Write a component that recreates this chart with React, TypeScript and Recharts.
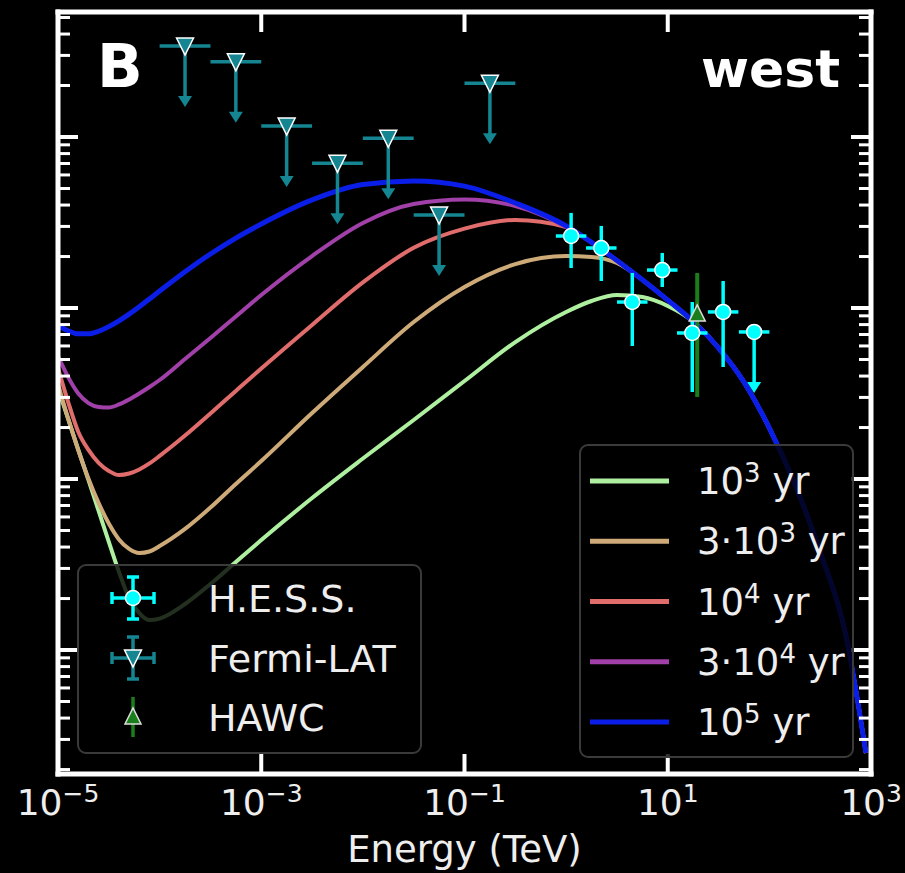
import React from 'react';
import { ComposedChart, Line, Scatter, XAxis, YAxis, ErrorBar } from 'recharts';

document.body.style.margin = '0';

// log10(E / TeV) grid shared by the model curves
const logEnergy = [
  -5, -4.9, -4.8, -4.7, -4.6, -4.5, -4.4, -4.3, -4.2, -4.1, -4, -3.75, -3.5, -3.25, -3,
  -2.5, -2, -1.5, -1, -0.5, 0, 0.25, 0.5, 0.75, 1, 1.25, 1.5, 1.75, 2, 2.25, 2.5, 2.75, 2.95,
];

// log10 flux of the model curves, one per source age
const flux1e3 = [
  -10.468, -10.649, -10.83, -11.006, -11.187, -11.368, -11.544, -11.696, -11.784, -11.825, -11.816,
  -11.731, -11.614, -11.485, -11.357, -11.111, -10.88, -10.655, -10.427, -10.199, -10.023, -9.959,
  -9.924, -9.936, -9.988, -10.079, -10.234, -10.433, -10.702, -11.029, -11.427, -11.906, -12.602,
];
const flux3e3 = [
  -10.444, -10.647, -10.832, -10.998, -11.141, -11.26, -11.353, -11.409, -11.433, -11.424, -11.392,
  -11.292, -11.167, -11.029, -10.895, -10.614, -10.345, -10.082, -9.877, -9.743, -9.696, -9.702,
  -9.737, -9.835, -9.954, -10.079, -10.234, -10.433, -10.702, -11.029, -11.427, -11.906, -12.602,
];
const flux1e4 = [
  -10.351, -10.55, -10.725, -10.83, -10.906, -10.953, -10.977, -10.968, -10.944, -10.909, -10.865,
  -10.746, -10.617, -10.485, -10.354, -10.099, -9.85, -9.648, -9.536, -9.485, -9.526, -9.616,
  -9.722, -9.835, -9.954, -10.079, -10.234, -10.433, -10.702, -11.029, -11.427, -11.906, -12.602,
];
const flux3e4 = [
  -10.281, -10.404, -10.5, -10.556, -10.579, -10.582, -10.564, -10.535, -10.5, -10.462, -10.421,
  -10.298, -10.175, -10.05, -9.924, -9.696, -9.503, -9.392, -9.365, -9.404, -9.526, -9.616,
  -9.722, -9.835, -9.954, -10.079, -10.234, -10.433, -10.702, -11.029, -11.427, -11.906, -12.602,
];
const flux1e5 = [
  -10.103, -10.133, -10.151, -10.151, -10.136, -10.109, -10.075, -10.036, -9.993, -9.947, -9.901,
  -9.788, -9.684, -9.591, -9.509, -9.368, -9.278, -9.257, -9.287, -9.386, -9.52, -9.616,
  -9.722, -9.835, -9.954, -10.079, -10.234, -10.433, -10.702, -11.029, -11.427, -11.906, -12.602,
];

const ageLabels = ['10^3', '3·10^3', '10^4', '3·10^4', '10^5'];
const ageColors = ['#aef0a0', '#cdaa78', '#e06c6c', '#a040a8', '#0a1ee8'];
const ageFlux = [flux1e3, flux3e3, flux1e4, flux3e4, flux1e5];

// H.E.S.S. points (log10 values), last one is an upper limit
const hessLogE = [0.049, 0.346, 0.651, 0.946, 1.241, 1.545, 1.85];
const hessLogF = [-9.579, -9.649, -9.965, -9.778, -10.146, -10.023, -10.14];
const hessLogFHi = [-9.444, -9.52, -9.795, -9.678, -9.965, -9.842, -10.14];
const hessLogFLo = [-9.766, -9.842, -10.222, -9.877, -10.491, -10.345, -10.14];
const hessUpperLimit = [false, false, false, false, false, false, true];
const hessHalfBin = 0.15;

// Fermi-LAT upper limits
const fermiLogE = [-3.75, -3.25, -2.75, -2.25, -1.75, -1.25, -0.75];
const fermiLogF = [-8.468, -8.56, -8.936, -9.154, -9.008, -9.456, -8.686];
const fermiHalfBin = 0.25;

// HAWC
const hawcLogE = [1.29];
const hawcLogF = [-10.035];
const hawcLogFHi = [-9.795];
const hawcLogFLo = [-10.52];

const xTicks = [1e-5, 1e-3, 1e-1, 1e1, 1e3];
const xDomain = [1e-5, 1e3];
const yDomain = [10 ** -12.725, 10 ** -8.269];

const HESS = '#00ffff';
const FERMI = '#148591';
const HAWC = '#1a7f1a';
const FONT = 'DejaVu Sans';
const ARROW = 61;

const yTicks: number[] = [];
for (let d = -13; d <= -9; d++) {
  for (let m = 1; m <= 9; m++) {
    const v = m * 10 ** d;
    if (v >= yDomain[0] && v <= yDomain[1]) yTicks.push(v);
  }
}

const curveRows = ageFlux.map((ys) => logEnergy.map((x, i) => ({ e: 10 ** x, f: 10 ** ys[i] })));

const hessRows = hessLogE.map((x, i) => {
  const e = 10 ** x;
  const f = 10 ** hessLogF[i];
  return {
    e,
    f,
    ul: hessUpperLimit[i],
    ex: [e - 10 ** (x - hessHalfBin), 10 ** (x + hessHalfBin) - e],
    ey: [f - 10 ** hessLogFLo[i], 10 ** hessLogFHi[i] - f],
  };
});

const fermiRows = fermiLogE.map((x, i) => {
  const e = 10 ** x;
  return { e, f: 10 ** fermiLogF[i], ex: [e - 10 ** (x - fermiHalfBin), 10 ** (x + fermiHalfBin) - e] };
});

const hawcRows = hawcLogE.map((x, i) => {
  const f = 10 ** hawcLogF[i];
  return { e: 10 ** x, f, ey: [f - 10 ** hawcLogFLo[i], 10 ** hawcLogFHi[i] - f] };
});

const supText = (label: string) => {
  const [pre, exp] = label.split('^');
  return { pre, exp };
};

const BottomTick = ({ x, y, payload }: any) => {
  const exp = Math.round(Math.log10(payload.value));
  return (
    <g>
      <line x1={x} y1={y} x2={x} y2={y - 20} stroke="#fff" strokeWidth={4} />
      <text x={x} y={y + 41} textAnchor="middle" fill="#eee" fontSize={36} fontFamily={FONT}>
        10
        <tspan dy={-13} fontSize={25}>
          {exp < 0 ? '\u2212' + -exp : String(exp)}
        </tspan>
      </text>
    </g>
  );
};

const TopTick = ({ x, y }: any) => <line x1={x} y1={y} x2={x} y2={y + 20} stroke="#fff" strokeWidth={4} />;

const makeYTick = (dir: number) => ({ x, y, payload }: any) => {
  const lg = Math.log10(payload.value);
  const major = Math.abs(lg - Math.round(lg)) < 1e-6;
  return (
    <line x1={x} y1={y} x2={x + dir * (major ? 20 : 12)} y2={y} stroke="#fff" strokeWidth={major ? 4 : 3} />
  );
};

const HessShape = ({ cx, cy, payload }: any) => (
  <g>
    {payload.ul && (
      <>
        <line x1={cx} y1={cy} x2={cx} y2={cy + ARROW - 8} stroke={HESS} strokeWidth={3.5} />
        <path d={`M${cx - 7},${cy + ARROW - 11}L${cx + 7},${cy + ARROW - 11}L${cx},${cy + ARROW}Z`} fill={HESS} />
      </>
    )}
    <circle cx={cx} cy={cy} r={7.5} fill={HESS} stroke="#fff" strokeWidth={1.5} />
  </g>
);

const FermiShape = ({ cx, cy }: any) => (
  <g>
    <line x1={cx} y1={cy} x2={cx} y2={cy + ARROW - 8} stroke={FERMI} strokeWidth={3.5} />
    <path d={`M${cx - 7},${cy + ARROW - 11}L${cx + 7},${cy + ARROW - 11}L${cx},${cy + ARROW}Z`} fill={FERMI} />
    <path d={`M${cx - 8.5},${cy - 8}L${cx + 8.5},${cy - 8}L${cx},${cy + 9}Z`} fill={FERMI} stroke="#fff" strokeWidth={1.5} />
  </g>
);

const HawcShape = ({ cx, cy }: any) => (
  <path d={`M${cx - 8},${cy + 7}L${cx + 8},${cy + 7}L${cx},${cy - 9}Z`} fill={HAWC} stroke="#ddd" strokeWidth={1.5} />
);

const Cross = ({ x, y, color, caps }: { x: number; y: number; color: string; caps: boolean }) => (
  <g stroke={color} strokeWidth={3.5}>
    <line x1={x - 21} y1={y} x2={x + 21} y2={y} />
    <line x1={x} y1={y - 21} x2={x} y2={y + 21} />
    {caps && (
      <>
        <line x1={x - 6} y1={y - 21} x2={x + 6} y2={y - 21} />
        <line x1={x - 6} y1={y + 21} x2={x + 6} y2={y + 21} />
        <line x1={x - 21} y1={y - 6} x2={x - 21} y2={y + 6} />
        <line x1={x + 21} y1={y - 6} x2={x + 21} y2={y + 6} />
      </>
    )}
  </g>
);

const Overlay = () => (
  <svg width={905} height={873} style={{ position: 'absolute', left: 0, top: 0, pointerEvents: 'none' }}>
    <text x={97} y={87} fill="#fff" fontSize={60} fontWeight="bold" fontFamily={FONT}>B</text>
    <text x={840} y={87} fill="#fff" fontSize={52} fontWeight="bold" fontFamily={FONT} textAnchor="end">west</text>

    {/* data legend */}
    <rect x={78} y={565} width={343} height={188} rx={8} fill="#000" fillOpacity={0.8} stroke="#3a3a3a" strokeWidth={2} />
    <Cross x={133} y={598} color={HESS} caps />
    <circle cx={133} cy={598} r={7.5} fill={HESS} stroke="#fff" strokeWidth={1.5} />
    <Cross x={133} y={658} color={FERMI} caps />
    <path d="M124.5,650L141.5,650L133,667Z" fill={FERMI} stroke="#fff" strokeWidth={1.5} />
    <line x1={133} y1={697} x2={133} y2={737} stroke={HAWC} strokeWidth={3.5} />
    <path d="M125,724L141,724L133,708Z" fill={HAWC} stroke="#ddd" strokeWidth={1.5} />
    {['H.E.S.S.', 'Fermi-LAT', 'HAWC'].map((t, i) => (
      <text key={t} x={208} y={612 + i * 59.5} fill="#eee" fontSize={38} fontFamily={FONT}>{t}</text>
    ))}

    {/* model legend */}
    <rect x={580} y={445} width={273} height={312} rx={8} fill="#000" fillOpacity={0.8} stroke="#3a3a3a" strokeWidth={2} />
    {ageLabels.map((lab, i) => {
      const cy = 481 + i * 60.25;
      const { pre, exp } = supText(lab);
      return (
        <g key={lab}>
          <line x1={590} y1={cy} x2={669} y2={cy} stroke={ageColors[i]} strokeWidth={5} />
          <text x={697} y={cy + 13} fill="#eee" fontSize={37} fontFamily={FONT}>
            {pre}
            <tspan dy={-12} fontSize={26}>{exp}</tspan>
            <tspan dy={12}>{' yr'}</tspan>
          </text>
        </g>
      );
    })}
  </svg>
);

const axisLine = { stroke: '#fff', strokeWidth: 5, strokeLinecap: 'square' as const };

export default function App() {
  return (
    <div style={{ position: 'relative', width: 905, height: 873, background: '#000' }}>
      <ComposedChart width={905} height={873} margin={{ top: 0, right: 0, bottom: 0, left: 0 }}>
        <XAxis
          dataKey="e"
          type="number"
          scale="log"
          domain={xDomain}
          allowDataOverflow
          ticks={xTicks}
          interval={0}
          height={99}
          tickSize={0}
          tickMargin={0}
          axisLine={axisLine}
          tick={BottomTick}
          label={{ value: 'Energy (TeV)', position: 'insideBottom', offset: 11, fill: '#eee', fontSize: 37, fontFamily: FONT }}
        />
        <XAxis
          xAxisId="top"
          orientation="top"
          dataKey="e"
          type="number"
          scale="log"
          domain={xDomain}
          allowDataOverflow
          ticks={xTicks}
          interval={0}
          height={12}
          tickSize={0}
          tickMargin={0}
          axisLine={axisLine}
          tick={TopTick}
        />
        <YAxis
          dataKey="f"
          type="number"
          scale="log"
          domain={yDomain}
          allowDataOverflow
          ticks={yTicks}
          interval={0}
          width={58}
          tickSize={0}
          tickMargin={0}
          axisLine={axisLine}
          tick={makeYTick(1)}
        />
        <YAxis
          yAxisId="right"
          orientation="right"
          dataKey="f"
          type="number"
          scale="log"
          domain={yDomain}
          allowDataOverflow
          ticks={yTicks}
          interval={0}
          width={34}
          tickSize={0}
          tickMargin={0}
          axisLine={axisLine}
          tick={makeYTick(-1)}
        />

        {curveRows.map((rows, i) => (
          <Line
            key={ageLabels[i]}
            data={rows}
            dataKey="f"
            type="monotone"
            stroke={ageColors[i]}
            strokeWidth={i === 4 ? 5 : 4}
            dot={false}
            isAnimationActive={false}
          />
        ))}

        <Scatter data={fermiRows} dataKey="f" shape={FermiShape} isAnimationActive={false}>
          <ErrorBar dataKey="ex" direction="x" width={0} stroke={FERMI} strokeWidth={3.5} />
        </Scatter>
        <Scatter data={hawcRows} dataKey="f" shape={HawcShape} isAnimationActive={false}>
          <ErrorBar dataKey="ey" direction="y" width={0} stroke={HAWC} strokeWidth={4} />
        </Scatter>
        <Scatter data={hessRows} dataKey="f" shape={HessShape} isAnimationActive={false}>
          <ErrorBar dataKey="ex" direction="x" width={0} stroke={HESS} strokeWidth={3.5} />
          <ErrorBar dataKey="ey" direction="y" width={0} stroke={HESS} strokeWidth={3.5} />
        </Scatter>
      </ComposedChart>
      <Overlay />
    </div>
  );
}
